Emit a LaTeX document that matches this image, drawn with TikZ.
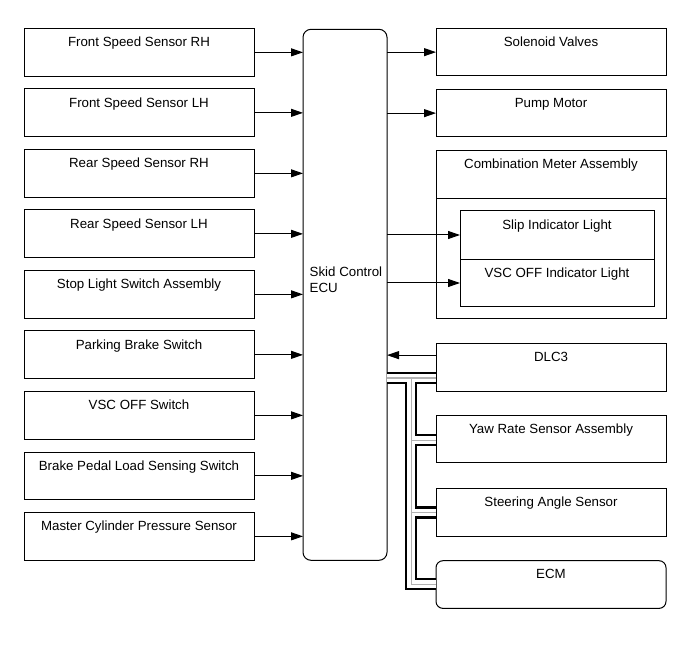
\documentclass[tikz,border=0pt]{standalone}
\usepackage{fontspec}
\setmainfont{Liberation Sans}
\usetikzlibrary{arrows.meta}
\begin{document}
\begin{tikzpicture}[x=1pt,y=-1pt,
  box/.style={draw, line width=1pt, minimum width=230pt, minimum height=47.7pt,
    anchor=north west, inner sep=0pt, outer sep=0pt},
  lab/.style={anchor=north, inner sep=0pt, yshift=-8.5pt, font=\fontsize{13.3}{16}\selectfont},
  tbox/.style={box, label={[lab]north:#1}},
  arr/.style={-{Triangle[length=12pt,width=8pt]}, line width=1pt},
  busblack/.style={line width=12.5pt, black, line join=miter},
  buswhite/.style={line width=7.5pt, white, line join=miter},
  busgray/.style={line width=1pt, gray!60, line join=miter}]
\useasboundingbox (0,0) rectangle (691,660);

% left inputs
\node[tbox={Front Speed Sensor RH}] (l1) at (24,28.5) {};
\node[tbox={Front Speed Sensor LH}] (l2) at (24,89) {};
\node[tbox={Rear Speed Sensor RH}] (l3) at (24,149.5) {};
\node[tbox={Rear Speed Sensor LH}] (l4) at (24,210) {};
\node[tbox={Stop Light Switch Assembly}] (l5) at (24,270.5) {};
\node[tbox={Parking Brake Switch}] (l6) at (24,331) {};
\node[tbox={VSC OFF Switch}] (l7) at (24,391.5) {};
\node[tbox={Brake Pedal Load Sensing Switch}] (l8) at (24,452) {};
\node[tbox={Master Cylinder Pressure Sensor}] (l9) at (24,512.5) {};

% ECU
\node[draw, line width=1pt, rounded corners=8pt, minimum width=84pt, minimum height=531pt,
  anchor=north west, inner sep=0pt, outer sep=0pt] (ecu) at (303,29.3) {};
\node[anchor=north west, align=left, inner sep=0pt, font=\fontsize{13.3}{16}\selectfont] (ecut) at (309.5,267) {Skid Control\\ECU};

% right outputs
\node[tbox={Solenoid Valves}] (r1) at (436,28.3) {};
\node[tbox={Pump Motor}] (r2) at (436,89.3) {};
\node[box, minimum height=168pt] (cm) at (436,150.3) {};
\node[tbox={Combination Meter Assembly}, minimum height=48pt] (cmt) at (436,150.3) {};
\node[tbox={Slip Indicator Light}, minimum width=194pt, minimum height=48.6pt] (slip) at (460,210.7) {};
\node[tbox={VSC OFF Indicator Light}, minimum width=194pt, minimum height=47.4pt] (vsc) at (460,259.3) {};
\node[tbox={DLC3}] (dlc) at (436,343.3) {};
\node[tbox={Yaw Rate Sensor Assembly}] (yaw) at (436,415) {};
\node[tbox={Steering Angle Sensor}] (sas) at (436,488.3) {};
\node[tbox={ECM}, rounded corners=7pt] (ecm) at (436,560.7) {};

% input arrows
\foreach \n in {l1,l2,l3,l4,l5,l6,l7,l8,l9}
  \draw[arr] (\n.east) -- (\n.east -| ecu.west);

% output arrows
\foreach \n in {r1,r2,slip,vsc}
  \draw[arr] (\n.west -| ecu.east) -- (\n.west);

\coordinate (dlcin) at ([yshift=12pt]dlc.west);
\draw[arr] (dlcin) -- (dlcin -| ecu.east);

% communication bus
\coordinate (b0) at (387,378);
\coordinate (t0) at (411,378);
\coordinate (t1) at (411,440);
\coordinate (t2) at (411,512.5);
\coordinate (t3) at (411,584);
\foreach \s in {busblack,buswhite,busgray}{
  \draw[\s] (b0) -- (b0 -| dlc.west);
  \draw[\s] (t0) -- (t3) -- (t3 -| ecm.west);
  \draw[\s] (t1) -- (t1 -| yaw.west);
  \draw[\s] (t2) -- (t2 -| sas.west);
}
\end{tikzpicture}
\end{document}
